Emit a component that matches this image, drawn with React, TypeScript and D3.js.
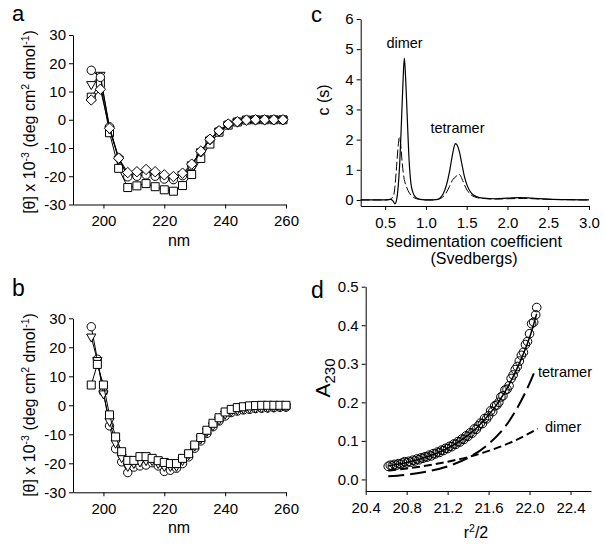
import React, { useEffect, useRef } from 'react';
import * as d3 from 'd3';

// panel a: CD spectra (x10^3 deg cm2 dmol-1), one reading every 3 nm
const aWavelength = [196, 199, 202, 205, 208, 211, 214, 217, 220, 223, 226, 229, 232, 235, 238, 241, 244, 247, 250, 253, 256, 259];
const aSquare = [8.0, 12.9, -4.6, -17.2, -24.0, -23.4, -22.6, -23.7, -24.8, -25.3, -23.3, -19.4, -13.7, -8.6, -4.4, -1.9, -0.8, -0.1, 0, 0, 0, 0];
const aTriangle = [12.5, 15.8, -3.2, -14.0, -19.6, -19.4, -19.0, -19.4, -20.4, -20.8, -19.3, -15.9, -11.3, -7.1, -4.0, -1.7, -0.8, -0.1, 0, 0, 0, 0];
const aCircle = [17.5, 15.0, -2.5, -13.5, -20.2, -20.0, -19.5, -20.0, -21.0, -21.2, -19.8, -16.3, -11.4, -7.0, -3.9, -1.6, -0.7, -0.1, 0, 0, 0, 0];
const aDiamond = [7.0, 10.8, -3.0, -13.6, -18.7, -18.4, -17.6, -18.4, -19.5, -20.1, -18.9, -15.7, -11.1, -6.9, -3.9, -1.5, -0.7, -0.1, 0, 0, 0, 0];

// panel b: CD spectra, one reading every 2 nm
const bWavelength = [196, 198, 200, 202, 204, 206, 208, 210, 212, 214, 216, 218, 220, 222, 224, 226, 228, 230, 232, 234, 236, 238, 240, 242, 244, 246, 248, 250, 252, 254, 256, 258, 260];
const bCircle = [27.1, 15.9, 4.6, -7.1, -15.0, -19.5, -23.2, -21.3, -20.9, -20.6, -19.8, -20.9, -22.8, -22.4, -21.7, -20.1, -17.8, -14.8, -12.3, -9.7, -7.4, -5.4, -3.7, -2.5, -2.0, -1.6, -1.4, -1.1, -1.0, -0.9, -0.8, -0.7, -0.6];
const bTriangle = [23.6, 15.5, 4.0, -5.5, -13.0, -18.0, -21.0, -20.0, -19.5, -19.0, -19.0, -20.0, -21.0, -21.0, -21.0, -19.0, -17.0, -14.0, -11.5, -9.0, -7.0, -5.0, -3.0, -2.0, -1.5, -1.2, -1.0, -0.9, -0.8, -0.7, -0.6, -0.5, -0.5];
const bSquare = [7.0, 14.1, 7.0, -3.3, -10.9, -16.0, -19.0, -19.0, -17.7, -17.7, -18.3, -19.1, -19.7, -20.1, -20.1, -18.3, -16.7, -13.7, -11.1, -8.6, -6.2, -4.3, -2.3, -1.4, -0.8, -0.5, -0.2, -0.1, 0, 0, 0, 0, 0];

// panel c: c(s) distributions
const cSolidS = [0.20, 0.50, 0.57, 0.60, 0.62, 0.64, 0.66, 0.68, 0.70, 0.72, 0.735, 0.75, 0.77, 0.79, 0.81, 0.84, 0.88, 0.95, 1.05, 1.12, 1.17, 1.21, 1.25, 1.29, 1.32, 1.345, 1.36, 1.38, 1.41, 1.44, 1.47, 1.51, 1.56, 1.62, 1.70, 1.85, 2.00, 2.15, 2.30, 2.50, 2.75, 3.00];
const cSolidC = [0, 0, 0.02, -0.05, -0.13, 0.0, 0.45, 1.3, 2.6, 4.0, 4.7, 4.1, 2.8, 1.5, 0.7, 0.25, 0.07, 0.01, 0, 0.01, 0.06, 0.2, 0.48, 0.95, 1.42, 1.76, 1.87, 1.83, 1.6, 1.2, 0.8, 0.45, 0.22, 0.11, 0.06, 0.04, 0.06, 0.08, 0.06, 0.03, 0.01, 0];
const cDashS = [0.20, 0.50, 0.55, 0.58, 0.60, 0.62, 0.64, 0.66, 0.675, 0.69, 0.71, 0.73, 0.76, 0.80, 0.85, 0.92, 1.00, 1.10, 1.18, 1.24, 1.29, 1.33, 1.36, 1.38, 1.40, 1.42, 1.45, 1.49, 1.54, 1.60, 1.70, 1.85, 2.00, 2.20, 2.40, 2.70, 3.00];
const cDashC = [0, 0, 0.01, 0.06, 0.1, 0.45, 1.1, 1.8, 2.08, 1.85, 1.2, 0.75, 0.45, 0.22, 0.08, 0.02, 0, 0, 0.05, 0.2, 0.45, 0.68, 0.75, 0.82, 0.86, 0.82, 0.65, 0.4, 0.2, 0.1, 0.05, 0.03, 0.04, 0.05, 0.03, 0.01, 0];

// panel d: equilibrium absorbance scan and fits
const dR2 = [20.62, 20.64, 20.66, 20.68, 20.70, 20.72, 20.74, 20.76, 20.78, 20.80, 20.82, 20.84, 20.86, 20.88, 20.90, 20.92, 20.94, 20.96, 20.98, 21.00, 21.02, 21.04, 21.06, 21.08, 21.10, 21.12, 21.14, 21.16, 21.18, 21.20, 21.22, 21.24, 21.26, 21.28, 21.30, 21.32, 21.34, 21.36, 21.38, 21.40, 21.42, 21.44, 21.46, 21.48, 21.50, 21.52, 21.54, 21.56, 21.58, 21.60, 21.62, 21.64, 21.66, 21.68, 21.70, 21.72, 21.74, 21.76, 21.78, 21.80, 21.82, 21.84, 21.86, 21.88, 21.90, 21.92, 21.94, 21.96, 21.98, 22.00, 22.02, 22.04, 22.06, 22.07];
const dA230 = [0.034, 0.037, 0.035, 0.039, 0.037, 0.041, 0.040, 0.043, 0.046, 0.043, 0.047, 0.045, 0.050, 0.048, 0.053, 0.051, 0.056, 0.055, 0.059, 0.058, 0.063, 0.061, 0.067, 0.066, 0.071, 0.070, 0.076, 0.075, 0.081, 0.080, 0.086, 0.085, 0.092, 0.091, 0.098, 0.097, 0.105, 0.104, 0.113, 0.112, 0.121, 0.120, 0.131, 0.130, 0.139, 0.146, 0.145, 0.158, 0.157, 0.165, 0.178, 0.176, 0.191, 0.193, 0.200, 0.214, 0.217, 0.232, 0.234, 0.243, 0.262, 0.271, 0.285, 0.293, 0.307, 0.322, 0.330, 0.350, 0.358, 0.378, 0.404, 0.408, 0.427, 0.446];
const dFitR2 = [20.62, 20.8, 21.0, 21.2, 21.4, 21.5, 21.6, 21.7, 21.8, 21.9, 22.0, 22.07];
const dFitA = [0.035, 0.044, 0.059, 0.081, 0.115, 0.138, 0.167, 0.202, 0.246, 0.301, 0.368, 0.43];
const dDimerR2 = [20.62, 20.8, 21.0, 21.2, 21.4, 21.6, 21.8, 22.0, 22.08];
const dDimerA = [0.023, 0.0285, 0.036, 0.046, 0.058, 0.074, 0.094, 0.12, 0.132];
const dTetramerR2 = [20.62, 20.8, 21.0, 21.2, 21.4, 21.6, 21.8, 22.0, 22.05];
const dTetramerA = [0.008, 0.0125, 0.0205, 0.034, 0.056, 0.092, 0.151, 0.249, 0.28];

const FONT = "'Liberation Sans', Arial, Helvetica, sans-serif";

const markers: Record<string, string> = {
  circle: d3.symbol(d3.symbolCircle, Math.PI * 4.2 * 4.2)() as string,
  square: 'M-4,-4H4V4H-4Z',
  triangle: 'M0,5.2L-4.6,-2.8L4.6,-2.8Z',
  diamond: 'M0,-5.2L5.2,0L0,5.2L-5.2,0Z',
};

type G = d3.Selection<SVGGElement, unknown, null, undefined>;

function styleAxis(s: G) {
  s.attr('font-family', FONT).attr('font-size', 15);
  s.selectAll('text').attr('fill', '#000');
  s.selectAll('line, path').attr('stroke', '#000');
}

function axes(g: G, x: any, y: any, xTicks: number[], yTicks: number[], fmt: (d: any) => string) {
  const [y0] = y.range();
  const [x0] = x.range();
  g.append('g')
    .attr('transform', `translate(0,${y0})`)
    .call(d3.axisBottom(x).tickValues(xTicks).tickSize(4).tickSizeOuter(0).tickPadding(7).tickFormat(fmt))
    .call(styleAxis);
  g.append('g')
    .attr('transform', `translate(${x0},0)`)
    .call(d3.axisLeft(y).tickValues(yTicks).tickSize(4).tickSizeOuter(0).tickPadding(3).tickFormat(fmt))
    .call(styleAxis);
}

function series(g: G, x: any, y: any, xs: number[], ys: number[], shape: string) {
  const pts = xs.map((v, i) => [v, ys[i]] as [number, number]);
  g.append('path')
    .datum(pts)
    .attr('fill', 'none')
    .attr('stroke', '#000')
    .attr('stroke-width', 1)
    .attr('d', d3.line().x((d) => x(d[0])).y((d) => y(d[1])));
  g.selectAll(null)
    .data(pts)
    .enter()
    .append('path')
    .attr('d', markers[shape])
    .attr('transform', (d) => `translate(${x(d[0])},${y(d[1])})`)
    .attr('fill', '#fff')
    .attr('stroke', '#000')
    .attr('stroke-width', 1);
}

function curve(g: G, x: any, y: any, xs: number[], ys: number[], dash: string | null, width: number) {
  const pts = xs.map((v, i) => [v, ys[i]] as [number, number]);
  g.append('path')
    .datum(pts)
    .attr('fill', 'none')
    .attr('stroke', '#000')
    .attr('stroke-width', width)
    .attr('stroke-dasharray', dash)
    .attr('d', d3.line().curve(d3.curveMonotoneX).x((d) => x(d[0])).y((d) => y(d[1])));
}

function label(g: G, x: number, y: number, size: number, anchor: string, parts: [string, number, number][], rotate = false) {
  const t = g.append('text')
    .attr('transform', rotate ? `translate(${x},${y}) rotate(-90)` : `translate(${x},${y})`)
    .attr('text-anchor', anchor)
    .attr('font-family', FONT)
    .attr('font-size', size)
    .attr('fill', '#000');
  parts.forEach(([txt, fs, dy]) => {
    t.append('tspan').attr('font-size', fs).attr('dy', dy).text(txt);
  });
}

const App: React.FC = () => {
  const ref = useRef<SVGSVGElement | null>(null);

  useEffect(() => {
    if (!ref.current) return;
    const svg = d3.select(ref.current);
    svg.selectAll('*').remove();
    const root = svg.append('g') as unknown as G;
    const int = (d: any) => String(d);
    const one = (d: any) => d3.format('.1f')(d).replace('−', '-');

    // ---- a ----
    const ax = d3.scaleLinear().domain([190, 260]).range([73, 286]);
    const ay = d3.scaleLinear().domain([-30, 30]).range([204.5, 35]);
    axes(root, ax, ay, [200, 220, 240, 260], [-30, -20, -10, 0, 10, 20, 30], int);
    series(root, ax, ay, aWavelength, aSquare, 'square');
    series(root, ax, ay, aWavelength, aTriangle, 'triangle');
    series(root, ax, ay, aWavelength, aCircle, 'circle');
    series(root, ax, ay, aWavelength, aDiamond, 'diamond');

    // ---- b ----
    const bx = d3.scaleLinear().domain([190, 260]).range([73, 286]);
    const by = d3.scaleLinear().domain([-30, 30]).range([492.3, 318.3]);
    axes(root, bx, by, [200, 220, 240, 260], [-30, -20, -10, 0, 10, 20, 30], int);
    series(root, bx, by, bWavelength, bCircle, 'circle');
    series(root, bx, by, bWavelength, bTriangle, 'triangle');
    series(root, bx, by, bWavelength, bSquare, 'square');

    // ---- c ----
    const cx = d3.scaleLinear().domain([0.2, 3.0]).range([360.7, 589]);
    const cy = d3.scaleLinear().domain([-0.2, 6]).range([206, 19]);
    root.append('g')
      .attr('transform', 'translate(0,206)')
      .call(d3.axisBottom(cx).tickValues([0.5, 1.0, 1.5, 2.0, 2.5, 3.0]).tickSize(4).tickSizeOuter(0).tickPadding(7).tickFormat(one))
      .call(styleAxis);
    root.append('g')
      .attr('transform', 'translate(360.7,0)')
      .call(d3.axisLeft(cy).tickValues([0, 1, 2, 3, 4, 5, 6]).tickSize(4).tickSizeOuter(0).tickPadding(3).tickFormat(int))
      .call(styleAxis);
    curve(root, cx, cy, cDashS, cDashC, '9,3', 1);
    curve(root, cx, cy, cSolidS, cSolidC, null, 1.2);

    // ---- d ----
    const dx = d3.scaleLinear().domain([20.4, 22.6]).range([365.7, 591]);
    const dy = d3.scaleLinear().domain([-0.03, 0.5]).range([491, 286.7]);
    axes(root, dx, dy, [20.4, 20.8, 21.2, 21.6, 22.0, 22.4], [0, 0.1, 0.2, 0.3, 0.4, 0.5], one);
    root.append('g')
      .selectAll('circle')
      .data(dR2.map((v, i) => [v, dA230[i]]))
      .enter()
      .append('circle')
      .attr('cx', (d) => dx(d[0]))
      .attr('cy', (d) => dy(d[1]))
      .attr('r', 4.3)
      .attr('fill', 'none')
      .attr('stroke', '#000')
      .attr('stroke-width', 1);
    curve(root, dx, dy, dFitR2, dFitA, null, 1.5);
    curve(root, dx, dy, dDimerR2, dDimerA, '8,4', 2);
    curve(root, dx, dy, dTetramerR2, dTetramerA, '16,6', 2);

    // ---- text ----
    const theta: [string, number, number][] = [
      ['[θ] x 10', 16, 0], ['-3', 10.5, -6], [' (deg cm', 16, 6], ['2', 10.5, -6], [' dmol', 16, 6], ['-1', 10.5, -6], [')', 16, 6],
    ];
    label(root, 35, 122, 16, 'middle', theta, true);
    label(root, 35, 405, 16, 'middle', theta, true);
    label(root, 179, 246, 16, 'middle', [['nm', 16, 0]]);
    label(root, 179, 533, 16, 'middle', [['nm', 16, 0]]);
    label(root, 329, 100, 16, 'middle', [['c (s)', 16, 0]], true);
    label(root, 474, 247, 16, 'middle', [['sedimentation coefficient', 16, 0]]);
    label(root, 474, 264, 16, 'middle', [['(Svedbergs)', 16, 0]]);
    label(root, 330, 378, 21, 'middle', [['A', 21, 0], ['230', 15, 5]], true);
    label(root, 476, 538, 16, 'middle', [['r', 16, 0], ['2', 10.5, -6], ['/2', 16, 6]]);
    label(root, 404.5, 48, 14.5, 'middle', [['dimer', 14.5, 0]]);
    label(root, 457.5, 133, 14.5, 'middle', [['tetramer', 14.5, 0]]);
    label(root, 538, 377, 14.5, 'start', [['tetramer', 14.5, 0]]);
    label(root, 545, 432, 14.5, 'start', [['dimer', 14.5, 0]]);
    label(root, 12, 21, 22, 'start', [['a', 22, 0]]);
    label(root, 12, 296, 23, 'start', [['b', 23, 0]]);
    label(root, 311, 22, 22, 'start', [['c', 22, 0]]);
    label(root, 311, 298, 23, 'start', [['d', 23, 0]]);
  }, []);

  return (
    <svg
      ref={ref}
      width={604}
      height={546}
      style={{ position: 'absolute', left: 0, top: 0, background: '#fff' }}
    />
  );
};

export default App;
